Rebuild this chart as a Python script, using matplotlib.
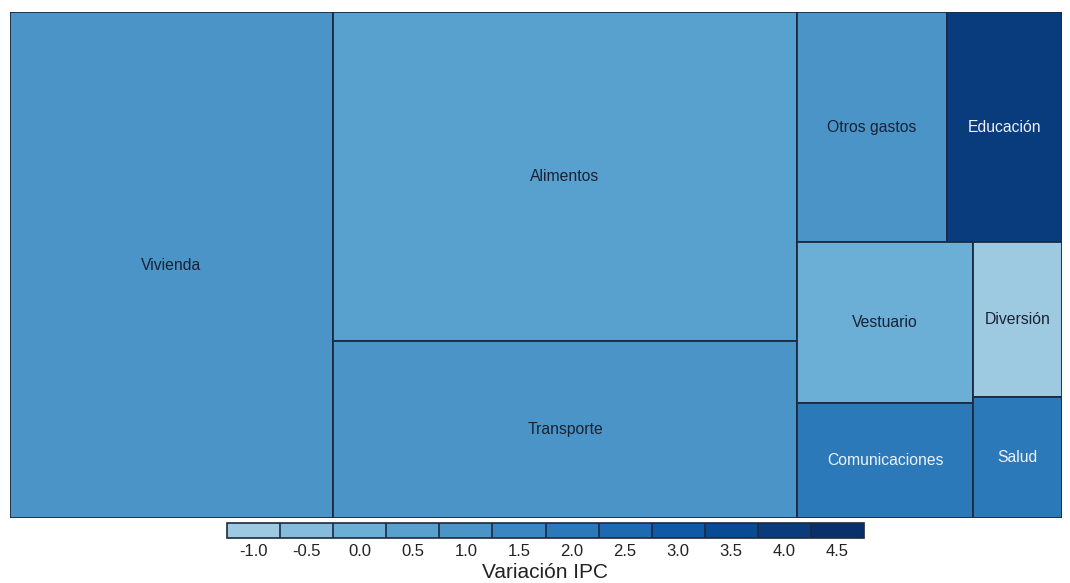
import numpy as np
import matplotlib as mpl
import matplotlib.pyplot as plt
from matplotlib.patches import Rectangle
from matplotlib.colors import ListedColormap, BoundaryNorm

plt.rcParams['font.family'] = ['Liberation Sans', 'DejaVu Sans']

# Data: basket weights (%) and IPC variation per group
groups = ['Vivienda', 'Alimentos', 'Transporte', 'Otros gastos', 'Educación',
          'Vestuario', 'Comunicaciones', 'Diversión', 'Salud']
weights = [30.70, 28.68, 15.43, 6.48, 4.97, 5.32, 3.80, 2.59, 2.02]
variation = [1.0, 0.5, 1.0, 1.0, 4.0, 0.0, 2.0, -1.0, 2.0]
bar_ticks = [-1.0, -0.5, 0.0, 0.5, 1.0, 1.5, 2.0, 2.5, 3.0, 3.5, 4.0, 4.5]

w = dict(zip(groups, weights))
v = dict(zip(groups, variation))

# layout nesting: 'h' splits side by side, 'v' stacks top to bottom
layout = ('h', ['Vivienda',
                ('v', ['Alimentos', 'Transporte']),
                ('v', [('h', ['Otros gastos', 'Educación']),
                       ('h', [('v', ['Vestuario', 'Comunicaciones']),
                              ('v', ['Diversión', 'Salud'])])])])

def total(node):
    if isinstance(node, str):
        return w[node]
    return sum(total(c) for c in node[1])

def place(node, x, y, dx, dy, out):
    if isinstance(node, str):
        out.append((node, x, y, dx, dy))
        return
    kind, children = node
    tot = total(node)
    pos = 0.
    for c in children:
        f = total(c) / tot
        if kind == 'h':
            place(c, x + pos*dx, y, f*dx, dy, out)
        else:
            place(c, x, y + pos*dy, dx, f*dy, out)
        pos += f

rects = []
place(layout, 0., 0., 1., 1., rects)

# 12-bin blue palette
cols = ['#9ecae1', '#85bcdc', '#6baed6', '#58a0ce', '#4a94c8', '#3a86c0',
        '#2c79b9', '#1e6ab0', '#105aa5', '#084b94', '#083c7d', '#08306b']
cmap = ListedColormap(cols)
bounds = np.arange(-1.25, 5.0, 0.5)
norm = BoundaryNorm(bounds, cmap.N)

fig = plt.figure(figsize=(10.7, 5.83), dpi=100)
ax = fig.add_axes([10/1070, 65/583, 1052/1070, 506/583])
edge = '#1c2b40'
for name, x, y, dx, dy in rects:
    ax.add_patch(Rectangle((x, y), dx, dy, facecolor=cmap(norm(v[name])),
                           edgecolor=edge, linewidth=1.3))
    tc = '#eef2f6' if v[name] >= 2.0 else '#1a2233'
    ax.text(x + dx/2, y + dy/2, name, ha='center', va='center', fontsize=11.3, color=tc)
ax.set_xlim(0, 1)
ax.set_ylim(1, 0)
ax.axis('off')

# Colour legend
cax = fig.add_axes([227/1070, (583-538)/583, 637/1070, 15/583])
sm = mpl.cm.ScalarMappable(cmap=cmap, norm=norm)
cb = fig.colorbar(sm, cax=cax, orientation='horizontal', ticks=bar_ticks, drawedges=True)
cb.outline.set_edgecolor(edge)
cb.outline.set_linewidth(1.2)
cb.dividers.set_color(edge)
cb.dividers.set_linewidth(1.2)
cax.minorticks_off()
cax.tick_params(which='both', length=0, labelsize=12, colors='#222222', pad=4)
cax.set_xticklabels(['{:.1f}'.format(t) for t in bar_ticks])
cb.set_label('Variación IPC', fontsize=15, color='#222222', labelpad=3)

fig.savefig('out.png', dpi=100)
